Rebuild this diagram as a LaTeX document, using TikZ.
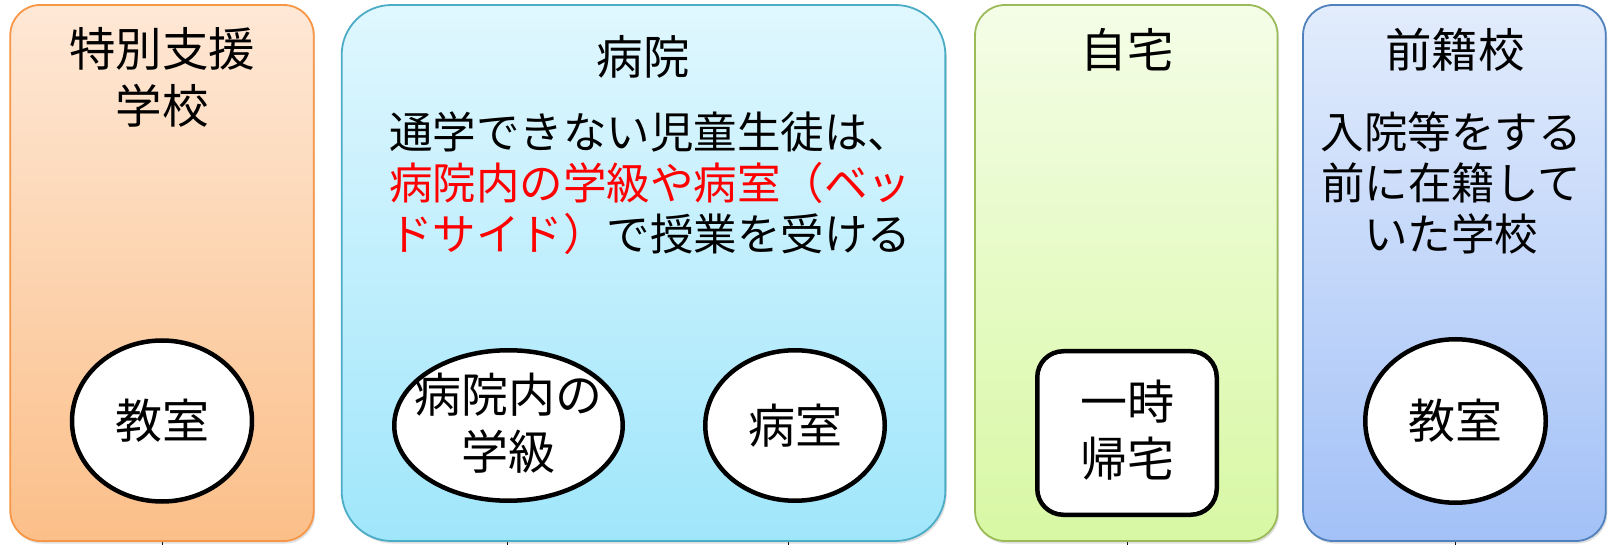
\documentclass[tikz,border=0pt]{standalone}
\usepackage{fontspec}
\setmainfont{Noto Sans CJK JP}
\usetikzlibrary{shapes.geometric,shadows}
\definecolor{orTop}{HTML}{FEE8D6}
\definecolor{orBot}{HTML}{FBBF89}
\definecolor{orLine}{HTML}{F79646}
\definecolor{cyTop}{HTML}{E0F7FE}
\definecolor{cyBot}{HTML}{A0E6FB}
\definecolor{cyLine}{HTML}{4BACC6}
\definecolor{grTop}{HTML}{F4FDE7}
\definecolor{grBot}{HTML}{D8F8A4}
\definecolor{grLine}{HTML}{9BBB59}
\definecolor{blTop}{HTML}{E2ECFC}
\definecolor{blBot}{HTML}{A3C1F7}
\definecolor{blLine}{HTML}{4F81BD}
\begin{document}
\begin{tikzpicture}[x=1pt,y=-1pt,
  panel/.style={rectangle, rounded corners=30pt, line width=1.8pt, inner sep=0pt, outer sep=0pt,
    minimum height=536pt,
    drop shadow={opacity=0.25, shadow xshift=1.5pt, shadow yshift=-2.5pt}},
  title/.style={font=\fontsize{46.5}{56.5}\selectfont, align=center, inner sep=0pt},
  body/.style={font=\fontsize{43.5}{51}\selectfont, inner sep=0pt},
  place/.style={ellipse, draw=black, line width=4.5pt, fill=white, inner sep=0pt},
  placetext/.style={font=\fontsize{47}{57}\selectfont, align=center, inner sep=0pt},
  tick/.style={draw=black, line width=1pt}
]
\useasboundingbox (0,0) rectangle (1618,545);
\fill[white] (0,0) rectangle (1618,545);

% connector stubs below the panels
\coordinate (t1a) at (162,540); \coordinate (t1b) at (162,545);
\coordinate (t2a) at (507,540); \coordinate (t2b) at (507,545);
\coordinate (t3a) at (788,540); \coordinate (t3b) at (788,545);
\coordinate (t4a) at (1127,540); \coordinate (t4b) at (1127,545);
\coordinate (t5a) at (1455,540); \coordinate (t5b) at (1455,545);
\foreach \i in {1,...,5} {\draw[tick] (t\i a) -- (t\i b);}

% panels
\node[panel, draw=orLine, top color=orTop, bottom color=orBot, minimum width=303.4pt] (school) at (162,273) {};
\node[panel, draw=cyLine, top color=cyTop, bottom color=cyBot, minimum width=603.7pt, rounded corners=50pt] (hospital) at (643.5,273) {};
\node[panel, draw=grLine, top color=grTop, bottom color=grBot, minimum width=302.5pt] (home) at (1126.3,273) {};
\node[panel, draw=blLine, top color=blTop, bottom color=blBot, minimum width=302.7pt] (former) at (1454.4,273) {};

% titles
\node[title] (schoolT) at (162,77.5) {特別支援\\学校};
\node[title] (hospitalT) at (643,57) {病院};
\node[title] (homeT) at (1127,49.5) {自宅};
\node[title] (formerT) at (1455,49.5) {前籍校};

% body texts
\node[body, anchor=west, align=left] (hospitalB) at (389,183)
  {通学できない児童生徒は、\\\textcolor{red}{病院内の学級や病室（ベッ}\\\textcolor{red}{ドサイド）}で授業を受ける};
\node[body, align=center] (formerB) at (1451,183) {入院等をする\\前に在籍して\\いた学校};

% places
\node[place, minimum width=180pt, minimum height=161pt] (room1) at (162,421) {};
\node[placetext] (room1T) at (room1) {教室};
\node[place, minimum width=228.5pt, minimum height=150.5pt] (ward1) at (508.5,425.5) {};
\node[placetext] (ward1T) at (508.5,423) {病院内の\\学級};
\node[place, minimum width=179.5pt, minimum height=150.5pt] (ward2) at (795,425.5) {};
\node[placetext] (ward2T) at (ward2) {病室};
\node[place, rectangle, rounded corners=26pt, minimum width=179.5pt, minimum height=163.5pt] (visit) at (1127,433) {};
\node[placetext] (visitT) at (1127,430) {一時\\帰宅};
\node[place, minimum width=180.5pt, minimum height=163.5pt] (room2) at (1455.5,421) {};
\node[placetext] (room2T) at (room2) {教室};
\end{tikzpicture}
\end{document}
